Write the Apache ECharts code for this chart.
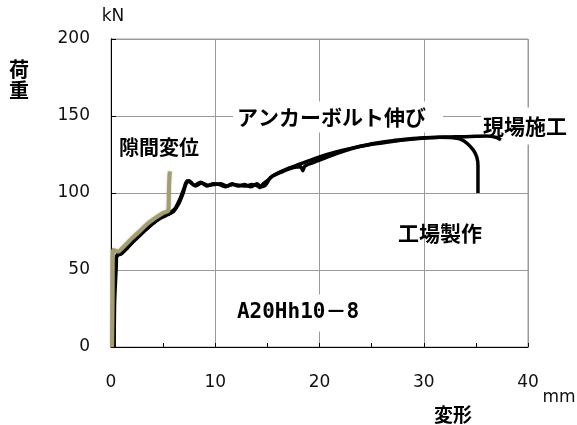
<!DOCTYPE html>
<html>
<head>
<meta charset="utf-8">
<script src="https://cdn.jsdelivr.net/npm/echarts@6/dist/echarts.min.js"></script>
<style>
  html, body { margin: 0; padding: 0; background: #fff; }
  #chart { width: 577px; height: 425px; }
</style>
</head>
<body>
<div id="chart"></div>
<script>
// Axis ticks (kN / mm)
const loadTicks = [0, 50, 100, 150, 200];
const dispTicks = [0, 10, 20, 30, 40];

// 現場施工 : displacement (mm) / load (kN)
const siteDisp = [0.3, 0.35, 0.5, 0.55, 1.0, 1.6, 2.3, 3.1, 3.9, 4.7, 5.5, 6.0, 6.5, 6.9, 7.2, 7.5, 8.0, 8.6, 9.2, 9.8, 10.4, 11.0, 11.6, 12.2, 12.8, 13.4, 14.0, 14.4, 14.8, 15.3, 16.0, 17.0, 18.0, 19.0, 20.0, 21.5, 23.0, 24.5, 26.0, 27.5, 29.0, 30.5, 32.0, 33.0, 34.0, 35.0, 36.0, 37.0, 37.4];
const siteLoad = [0, 30, 52, 59, 60.5, 64.5, 69.5, 74.5, 79.5, 83.5, 86, 88, 93, 99.5, 106, 108, 105, 107, 104.5, 106, 105.5, 104, 106, 104.5, 105.5, 104, 106, 104, 105, 110, 113, 116, 118.5, 121, 123.5, 126.5, 129, 131, 132.5, 134, 135, 135.8, 136.3, 136.5, 136.6, 136.8, 137, 136, 134.5];

// 工場製作 : displacement (mm) / load (kN)
const shopDisp = [0.25, 0.3, 0.45, 0.65, 1.1, 1.7, 2.4, 3.2, 4.0, 4.8, 5.6, 6.1, 6.6, 7.0, 7.3, 7.6, 8.1, 8.7, 9.3, 9.9, 10.5, 11.1, 11.7, 12.3, 12.9, 13.5, 14.1, 14.3, 14.6, 15.0, 15.5, 16.5, 17.5, 18.2, 18.4, 18.6, 19.5, 21.0, 22.5, 24.0, 25.5, 27.0, 28.5, 30.0, 31.5, 32.5, 33.5, 34.2, 34.8, 35.1, 35.2, 35.2, 35.2];
const shopLoad = [0, 35, 56, 60.5, 61.5, 65.5, 70.5, 75.5, 80.5, 84.5, 87, 89.5, 96, 103, 108, 107, 104.5, 106.5, 105, 105.5, 106, 104.5, 105.5, 105, 104.5, 105.5, 104.5, 103.5, 106, 108, 111, 114, 116.5, 117, 114.5, 117.5, 120, 124, 127.5, 130.5, 132.5, 134, 135, 135.8, 136.2, 136, 135, 132, 127.5, 123, 118, 110, 100];

// 隙間変位 : displacement (mm) / load (kN)
const gapDisp = [0.1, 0.15, 0.2, 0.7, 1.2, 2.0, 2.8, 3.5, 4.3, 5.0, 5.5, 5.55, 5.6, 5.65];
const gapLoad = [0, 30, 63, 62, 65, 70.5, 75.5, 80, 84, 87, 88.5, 100, 110, 114];

const pairs = (xs, ys) => xs.map((x, i) => [x, ys[i]]);

const tickFont = { fontFamily: 'DejaVu Sans', fontSize: 17, color: '#111' };
const jpBold = (size) => 'bold ' + size + 'px "Noto Sans CJK JP"';

const chart = echarts.init(document.getElementById('chart'), null, { renderer: 'canvas' });

chart.setOption({
  animation: false,
  backgroundColor: '#fff',
  grid: { left: 111, right: 49, top: 39, bottom: 78, show: true, borderColor: '#9a9a9a', borderWidth: 1 },
  xAxis: {
    type: 'value',
    min: dispTicks[0],
    max: dispTicks[dispTicks.length - 1],
    interval: 10,
    axisLine: { show: true, onZero: false, lineStyle: { color: '#000', width: 1 } },
    axisTick: { show: true, inside: true, length: 4, lineStyle: { color: '#000' } },
    minorTick: { show: true, splitNumber: 2, length: 4, lineStyle: { color: '#000' } },
    splitLine: { show: true, lineStyle: { color: '#9a9a9a', width: 1 } },
    axisLabel: Object.assign({ margin: 27, formatter: (v) => String(v) }, tickFont)
  },
  yAxis: [
    {
      type: 'value',
      min: loadTicks[0],
      max: loadTicks[loadTicks.length - 1],
      interval: 50,
      axisLine: { show: true, onZero: false, lineStyle: { color: '#000', width: 1 } },
      axisTick: { show: true, inside: true, length: 5, lineStyle: { color: '#000' } },
      splitLine: { show: true, lineStyle: { color: '#9a9a9a', width: 1 } },
      axisLabel: Object.assign({ margin: 21 }, tickFont)
    },
    {
      type: 'value',
      position: 'right',
      min: loadTicks[0],
      max: loadTicks[loadTicks.length - 1],
      interval: 50,
      axisLine: { show: true, lineStyle: { color: '#000', width: 1 } },
      axisTick: { show: false },
      axisLabel: { show: false },
      splitLine: { show: false }
    }
  ],
  series: [
    {
      name: '現場施工',
      type: 'line',
      data: pairs(siteDisp, siteLoad),
      showSymbol: false,
      smooth: 0.25,
      lineStyle: { color: '#000', width: 3.5 },
      z: 3
    },
    {
      name: '工場製作',
      type: 'line',
      data: pairs(shopDisp, shopLoad),
      showSymbol: false,
      smooth: 0.25,
      lineStyle: { color: '#000', width: 3.5 },
      z: 3
    },
    {
      name: '隙間変位',
      type: 'line',
      data: pairs(gapDisp, gapLoad),
      showSymbol: false,
      smooth: 0.2,
      lineStyle: { color: '#a39d70', width: 4, shadowColor: 'rgba(120,120,120,0.5)', shadowBlur: 2 },
      z: 4
    }
  ],
  graphic: [
    { type: 'text', x: 113, y: 17, z: 5, style: { text: 'kN', font: '17px "DejaVu Sans"', fill: '#111', align: 'center', verticalAlign: 'middle' } },
    { type: 'text', x: 559, y: 398, z: 5, style: { text: 'mm', font: '17px "DejaVu Sans"', fill: '#111', align: 'center', verticalAlign: 'middle' } },
    { type: 'text', x: 19, y: 80, z: 5, style: { text: '荷\n重', font: jpBold(20), lineHeight: 21, fill: '#000', align: 'center', verticalAlign: 'middle' } },
    { type: 'text', x: 453, y: 415, z: 5, style: { text: '変形', font: jpBold(19), fill: '#000', align: 'center', verticalAlign: 'middle' } },
    { type: 'text', x: 159, y: 147, z: 1, style: { text: '隙間変位', font: jpBold(20), fill: '#000', align: 'center', verticalAlign: 'middle' } },
    { type: 'text', x: 233, y: 117, z: 1, style: { text: 'アンカーボルト伸び', font: jpBold(21), fill: '#000', align: 'left', verticalAlign: 'middle', backgroundColor: '#fff', padding: [5, 17, 5, 4] } },
    { type: 'text', x: 481, y: 126, z: 1, style: { text: '現場施工', font: jpBold(21), fill: '#000', align: 'left', verticalAlign: 'middle', backgroundColor: '#fff', padding: [8, 4, 8, 2] } },
    { type: 'text', x: 440, y: 233, z: 1, style: { text: '工場製作', font: jpBold(21), fill: '#000', align: 'center', verticalAlign: 'middle' } },
    { type: 'text', x: 298, y: 313, z: 1, style: { text: 'A20Hh10－8', font: 'bold 21px "DejaVu Sans Mono", "Noto Sans CJK JP"', fill: '#000', align: 'center', verticalAlign: 'middle', backgroundColor: '#fff', padding: [8, 3, 8, 3] } }
  ]
});
</script>
</body>
</html>
